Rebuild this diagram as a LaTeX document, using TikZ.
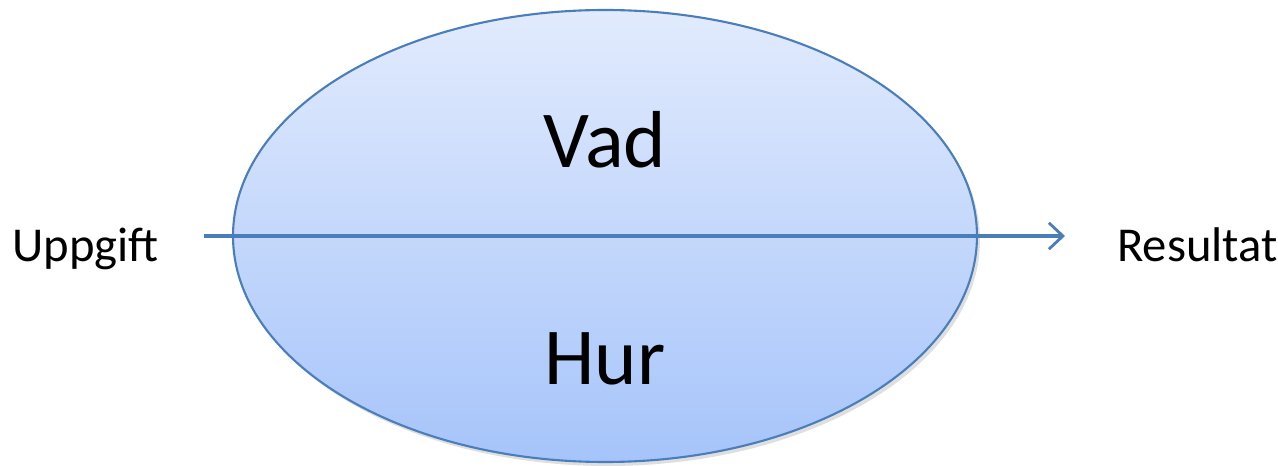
\documentclass[tikz,border=0pt]{standalone}
\usepackage{fontspec}
\setmainfont{Carlito}
\usetikzlibrary{shapes.geometric,arrows.meta,shadows}
\definecolor{lineblue}{HTML}{4A7EBB}
\definecolor{topblue}{HTML}{E2EBFD}
\definecolor{botblue}{HTML}{A6C4FA}
\tikzset{
  flow/.style={draw=lineblue, line width=1.8pt, -{Straight Barb[length=8pt,width=15pt,line width=1.6pt]}},
  sidetext/.style={anchor=base west, font=\fontsize{27.7}{32}\selectfont, inner sep=0pt},
  bigtext/.style={anchor=base, font=\fontsize{46}{54}\selectfont, inner sep=0pt}
}
\begin{document}
\begin{tikzpicture}
\useasboundingbox (0,0) rectangle (25.56,9.32);
\node[ellipse, draw=lineblue, line width=1.2pt, top color=topblue, bottom color=botblue,
  minimum width=14.88cm, minimum height=9.04cm,
  drop shadow={opacity=0.25, shadow xshift=0.06cm, shadow yshift=-0.08cm}] (loop) at (12.1,4.6){};
\node[bigtext] (vad) at (12.1,5.96){Vad};
\node[bigtext] (hur) at (12.1,1.62){Hur};
\node[sidetext] (uppgift) at (0.24,4.08){Uppgift};
\node[sidetext] (resultat) at (22.34,4.08){Resultat};
\coordinate (start) at (4.08,4.6);
\coordinate (stop) at (21.3,4.6);
\draw[flow](start) -- (stop);
\end{tikzpicture}
\end{document}
